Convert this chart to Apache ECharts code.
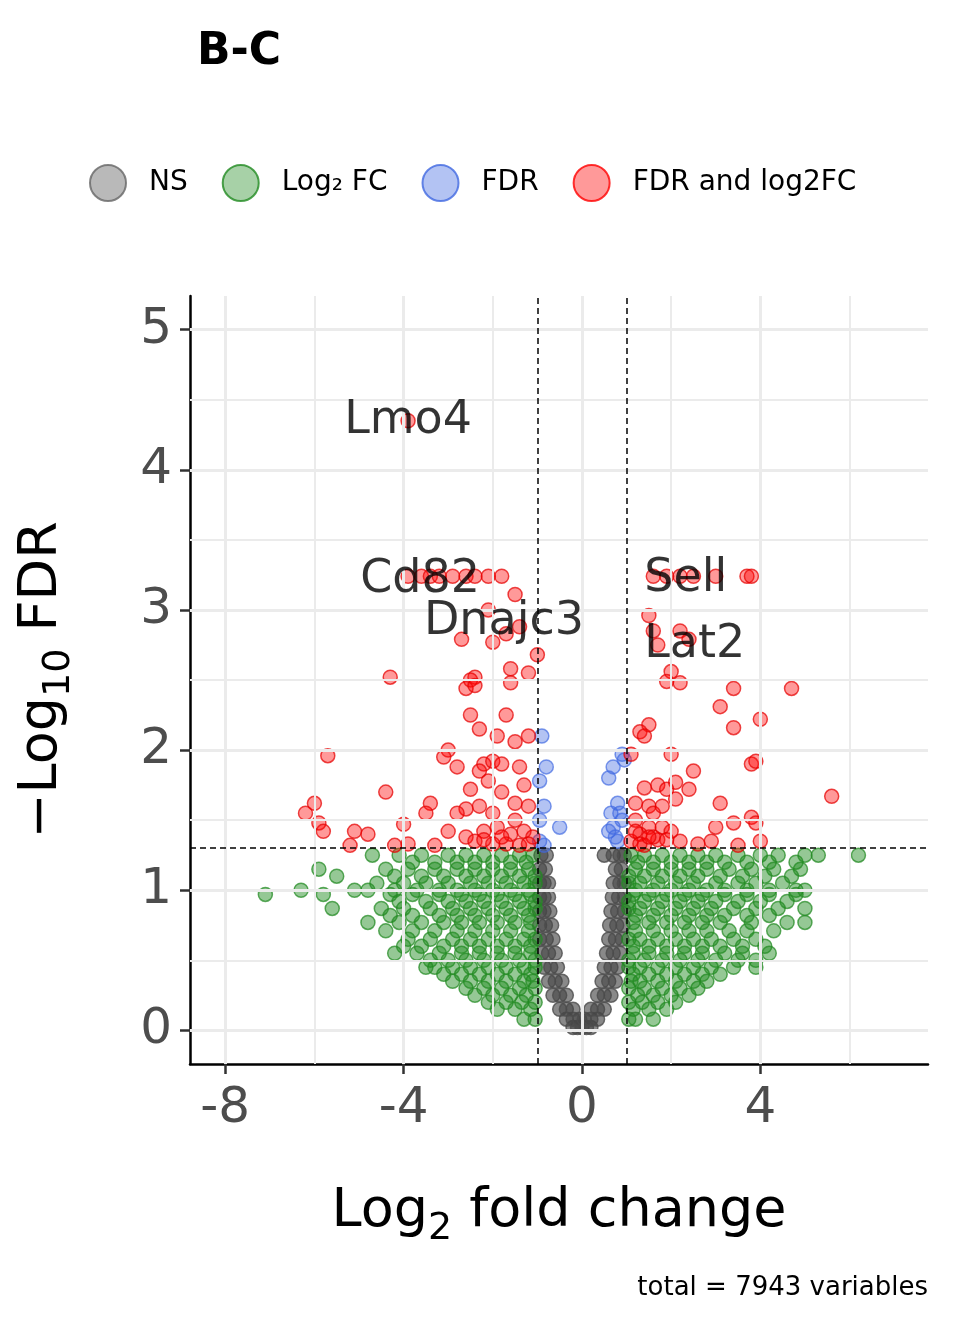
<!DOCTYPE html>
<html>
<head>
<meta charset="utf-8">
<script src="https://cdn.jsdelivr.net/npm/echarts@6/dist/echarts.min.js"></script>
<style>html,body{margin:0;padding:0;background:#fff}#c{width:960px;height:1344px}</style>
</head>
<body>
<div id="c"></div>
<script>
// tick labels
var xTicks = [-8, -4, 0, 4];
var yTicks = [0, 1, 2, 3, 4, 5];
var xGrid = [-8, -6, -4, -2, 0, 2, 4, 6];
var yGridMajor = [0, 1, 2, 3, 4, 5];
var yGridMinor = [0.5, 1.5, 2.5, 3.5, 4.5];

// significant (FDR and log2FC) points
var redPts = [
  [-3.9,4.35],
  [-3.9,3.24],[-3.6,3.24],[-3.4,3.24],[-3.2,3.24],[-2.9,3.24],[-2.6,3.24],[-2.4,3.24],[-2.1,3.24],[-1.8,3.24],
  [1.6,3.24],[1.9,3.24],[2.2,3.24],[2.5,3.24],[3.0,3.24],[3.7,3.24],[3.8,3.24],
  [-1.5,3.11],[-2.1,3.0],[-1.4,2.88],[-2.7,2.79],[-2.0,2.77],[-1.7,2.83],[-1.0,2.68],[-1.6,2.58],[-1.2,2.55],
  [-2.4,2.52],[-2.5,2.50],[-1.6,2.48],[-4.3,2.52],[-2.6,2.44],[-2.4,2.46],
  [1.5,2.96],[1.6,2.85],[2.2,2.85],[2.4,2.79],[1.7,2.75],[2.0,2.56],[1.9,2.49],[2.2,2.48],[3.4,2.44],[4.7,2.44],
  [3.1,2.31],[3.4,2.16],[4.0,2.22],[1.5,2.18],[1.3,2.13],[1.4,2.1],[1.1,1.97],[2.0,1.97],[3.8,1.9],[3.9,1.92],
  [2.5,1.85],[2.1,1.77],[1.7,1.75],[1.4,1.73],[1.9,1.72],[1.2,1.62],[1.5,1.6],[2.1,1.65],[2.4,1.72],[3.1,1.62],
  [5.6,1.67],[3.8,1.52],[3.9,1.48],[3.0,1.45],[3.4,1.48],[1.5,1.45],[1.8,1.45],[1.2,1.5],[1.3,1.4],[2.2,1.35],
  [2.9,1.35],[3.5,1.32],[4.0,1.35],[2.6,1.33],[1.7,1.36],[1.1,1.35],[1.4,1.32],
  [-2.5,2.25],[-2.3,2.15],[-1.7,2.25],[-1.2,2.1],[-1.9,2.1],[-1.5,2.06],[-3.0,2.0],[-3.1,1.95],[-2.2,1.9],
  [-2.0,1.92],[-1.8,1.9],[-1.4,1.88],[-2.8,1.88],[-5.7,1.96],[-2.1,1.78],[-2.5,1.72],[-1.8,1.7],[-2.3,1.6],
  [-2.6,1.58],[-3.4,1.62],[-3.5,1.55],[-4.4,1.7],[-1.5,1.62],[-1.2,1.6],[-2.0,1.55],[-2.8,1.55],[-6.0,1.62],
  [-6.2,1.55],[-5.9,1.48],[-5.8,1.42],[-4.0,1.47],[-3.0,1.42],[-2.6,1.38],[-2.2,1.42],[-1.9,1.45],[-1.6,1.4],
  [-1.3,1.42],[-1.1,1.38],[-5.1,1.42],[-4.8,1.4],[-4.2,1.32],[-5.2,1.32],[-3.9,1.33],[-3.3,1.32],[-2.0,1.33],
  [-1.4,1.32],[-2.4,1.35],[-1.7,1.33],[-1.5,1.5],[-1.3,1.75],[-2.3,1.85],[1.6,1.55],[1.8,1.6],[2.0,1.42],
  [-1.8,1.38],[-1.2,1.33],[-2.2,1.36],[1.3,1.33],[1.6,1.38],[1.9,1.36],[1.2,1.42],[1.5,1.38]
];

var bluePts = [
  [-0.9,2.1],[-0.8,1.88],[-0.95,1.78],[-0.85,1.6],[-0.95,1.5],[-0.5,1.45],[-0.95,1.35],[-0.85,1.32],
  [0.6,1.8],[0.7,1.88],[0.9,1.97],[0.95,1.93],[0.8,1.62],[0.85,1.55],[0.6,1.42],[0.7,1.45],
  [0.75,1.38],[0.9,1.5],[0.65,1.55],[0.8,1.35]
];

// log2FC-only cloud: rows of [y, x values]
var greenRows = [
  [1.25,[-4.7,-4.1,-3.6,-3.0,-2.6,-2.2,-1.8,-1.4,-1.1,1.1,1.4,1.8,2.2,2.6,3.0,3.5,4.0,4.4,5.0,5.3,6.2]],
  [1.2,[-3.8,-3.3,-2.8,-2.4,-2.0,-1.6,-1.25,1.25,1.6,2.0,2.4,2.8,3.2,3.7,4.2,4.8]],
  [1.15,[-5.9,-4.4,-3.9,-3.3,-2.8,-2.4,-2.0,-1.6,-1.2,1.2,1.6,2.0,2.4,2.8,3.3,3.8,4.3,4.9]],
  [1.1,[-5.5,-4.2,-3.6,-3.1,-2.6,-2.2,-1.8,-1.4,-1.05,1.05,1.4,1.8,2.2,2.6,3.1,3.6,4.1,4.7]],
  [1.05,[-4.6,-4.0,-3.5,-3.0,-2.5,-2.1,-1.7,-1.3,-1.05,1.05,1.3,1.7,2.1,2.5,3.0,3.5,3.9,4.5]],
  [1.0,[-6.3,-5.1,-4.8,-4.2,-3.7,-3.2,-2.8,-2.4,-2.0,-1.6,-1.2,1.2,1.6,2.0,2.4,2.8,3.2,3.7,4.2,4.8,5.0]],
  [0.97,[-7.1,-5.8,-4.3,-3.8,-3.2,-2.7,-2.3,-1.9,-1.5,-1.15,1.15,1.5,1.9,2.3,2.7,3.2,3.7,4.2,4.8]],
  [0.92,[-4.1,-3.5,-3.0,-2.6,-2.2,-1.8,-1.4,-1.05,1.05,1.4,1.8,2.2,2.6,3.0,3.5,4.0,4.6]],
  [0.87,[-5.6,-4.5,-4.0,-3.4,-2.9,-2.5,-2.1,-1.7,-1.3,-1.05,1.05,1.3,1.7,2.1,2.5,2.9,3.4,3.9,4.4,5.0]],
  [0.82,[-4.3,-3.8,-3.2,-2.8,-2.4,-2.0,-1.6,-1.2,1.2,1.6,2.0,2.4,2.8,3.2,3.7,4.2]],
  [0.77,[-4.8,-4.1,-3.6,-3.1,-2.7,-2.3,-1.9,-1.5,-1.15,1.15,1.5,1.9,2.3,2.7,3.1,3.8,4.6,5.0]],
  [0.71,[-4.4,-3.8,-3.3,-2.8,-2.4,-2.0,-1.6,-1.2,1.2,1.6,2.0,2.4,2.8,3.3,3.7,4.3]],
  [0.65,[-3.9,-3.4,-2.9,-2.5,-2.1,-1.7,-1.3,-1.05,1.05,1.3,1.7,2.1,2.5,2.9,3.4,3.9]],
  [0.6,[-4.0,-3.6,-3.1,-2.7,-2.3,-1.9,-1.5,-1.15,1.15,1.5,1.9,2.3,2.7,3.1,3.6,4.1]],
  [0.55,[-4.2,-3.7,-3.2,-2.7,-2.3,-1.9,-1.5,-1.15,1.15,1.5,1.9,2.3,2.7,3.2,3.6,4.2]],
  [0.5,[-3.4,-3.0,-2.6,-2.2,-1.8,-1.4,-1.05,1.05,1.4,1.8,2.2,2.6,3.0,3.5,3.9]],
  [0.45,[-3.5,-3.3,-2.9,-2.5,-2.1,-1.7,-1.3,-1.05,1.05,1.3,1.7,2.1,2.5,2.9,3.4,3.9]],
  [0.4,[-3.1,-2.7,-2.3,-1.9,-1.5,-1.15,1.15,1.5,1.9,2.3,2.7,3.1]],
  [0.35,[-2.9,-2.5,-2.1,-1.7,-1.3,-1.1,1.1,1.3,1.7,2.1,2.5,2.8]],
  [0.3,[-2.6,-2.2,-1.8,-1.4,-1.05,1.05,1.4,1.8,2.2,2.6]],
  [0.25,[-2.4,-2.0,-1.6,-1.25,1.25,1.6,2.0,2.4]],
  [0.2,[-2.1,-1.7,-1.35,-1.05,1.05,1.35,1.7,2.1]],
  [0.15,[-1.9,-1.5,-1.15,1.15,1.5,1.9]],
  [0.08,[-1.3,-1.05,1.05,1.2,1.6]]
];

// not significant V shape: rows of [y, x values]
var greyRows = [
  [0.02,[-0.2,-0.1,0,0.1,0.2]],
  [0.08,[-0.35,-0.2,-0.05,0.05,0.2,0.35]],
  [0.15,[-0.5,-0.35,-0.2,0.2,0.35,0.5]],
  [0.25,[-0.65,-0.5,-0.35,0.35,0.5,0.65]],
  [0.35,[-0.75,-0.6,-0.45,0.45,0.6,0.75]],
  [0.45,[-0.85,-0.7,-0.55,0.5,0.65,0.8]],
  [0.55,[-0.9,-0.75,-0.6,0.55,0.7,0.85]],
  [0.65,[-0.95,-0.8,-0.65,0.6,0.75,0.9]],
  [0.75,[-0.95,-0.82,-0.68,0.62,0.78,0.92]],
  [0.85,[-0.95,-0.85,-0.72,0.65,0.8,0.95]],
  [0.95,[-0.95,-0.85,-0.75,0.68,0.82,0.95]],
  [1.05,[-0.95,-0.85,-0.75,0.7,0.85,0.95]],
  [1.15,[-0.95,-0.82,0.75,0.88]],
  [1.25,[-0.92,-0.8,0.5,0.7,0.85,0.95]]
];

var geneLabels = [
  ['Lmo4', -3.9, 4.35],
  ['Cd82', -3.63, 3.21],
  ['Dnajc3', -1.75, 2.91],
  ['Sell', 2.33, 3.22],
  ['Lat2', 2.53, 2.75]
];

var legendNames = ['NS', 'Log₂ FC', 'FDR', 'FDR and log2FC'];

function rowsToPts(rows) {
  var out = [];
  rows.forEach(function (r) {
    r[1].forEach(function (x) { out.push([x, r[0]]); });
  });
  return out;
}

function pointSeries(name, data, fill, edge) {
  return {
    name: name,
    type: 'scatter',
    data: data,
    symbolSize: 14,
    itemStyle: { color: fill, borderColor: edge, borderWidth: 1.5 },
    emphasis: { disabled: true }
  };
}

var gridLines = []
  .concat(xGrid.map(function (v) { return { xAxis: v, lineStyle: { width: v % 4 === 0 ? 3 : 2 } }; }))
  .concat(yGridMajor.map(function (v) { return { yAxis: v, lineStyle: { width: 3 } }; }))
  .concat(yGridMinor.map(function (v) { return { yAxis: v, lineStyle: { width: 2 } }; }));

var chart = echarts.init(document.getElementById('c'));
var axisFont = 'DejaVu Sans';
var nameRich = {
  a: { fontFamily: axisFont, fontSize: 54, color: '#000' },
  s: { fontFamily: axisFont, fontSize: 38, color: '#000', padding: [34, 0, 0, 0] }
};
chart.setOption({
  animation: false,
  title: {
    text: 'B-C', left: 192, top: 26,
    textStyle: { fontFamily: axisFont, fontSize: 44, fontWeight: 'bold', color: '#000' }
  },
  legend: {
    left: 84, top: 159, width: 3000,
    itemWidth: 36, itemHeight: 36, itemGap: 34,
    icon: 'circle',
    textStyle: { fontFamily: axisFont, fontSize: 28, color: '#000', padding: [0, 0, 0, 18] },
    data: [
      { name: legendNames[0], itemStyle: { color: 'rgba(80,80,80,0.5)', borderColor: '#666', borderWidth: 2 } },
      { name: legendNames[1], itemStyle: { color: 'rgba(34,139,34,0.5)', borderColor: '#228b22', borderWidth: 2 } },
      { name: legendNames[2], itemStyle: { color: 'rgba(65,105,225,0.5)', borderColor: '#4169e1', borderWidth: 2 } },
      { name: legendNames[3], itemStyle: { color: 'rgba(255,0,0,0.5)', borderColor: '#ff0000', borderWidth: 2 } }
    ]
  },
  grid: { left: 190, right: 32, top: 296, bottom: 280 },
  xAxis: {
    type: 'value', min: -8.79, max: 7.76,
    name: '{a|Log}{s|2}{a| fold change}',
    nameLocation: 'middle', nameGap: 112,
    nameTextStyle: { rich: nameRich },
    axisLine: { onZero: false, lineStyle: { color: '#000', width: 2.5 } },
    axisTick: { customValues: xTicks, length: 10, lineStyle: { color: '#333', width: 2.5 } },
    axisLabel: { customValues: xTicks, fontFamily: axisFont, fontSize: 50, color: '#4d4d4d', margin: 20 },
    splitLine: { show: false }
  },
  yAxis: {
    type: 'value', min: -0.24, max: 5.24,
    name: '{a|−Log}{s|10}{a| FDR}',
    nameLocation: 'middle', nameGap: 112, nameRotate: 90,
    nameTextStyle: { rich: nameRich },
    axisLine: { onZero: false, lineStyle: { color: '#000', width: 2.5 } },
    axisTick: { customValues: yTicks, length: 10, lineStyle: { color: '#333', width: 2.5 } },
    axisLabel: { customValues: yTicks, fontFamily: axisFont, fontSize: 50, color: '#4d4d4d', margin: 18 },
    splitLine: { show: false }
  },
  graphic: [{
    type: 'text', right: 32, top: 1275,
    style: { text: 'total = 7943 variables', fontFamily: axisFont, fontSize: 26, fill: '#000' }
  }],
  series: [
    {
      name: 'grid', type: 'line', data: [], z: 0, silent: true,
      markLine: {
        silent: true, symbol: 'none', label: { show: false },
        lineStyle: { color: '#ebebeb', type: 'solid' },
        data: gridLines
      }
    },
    pointSeries(legendNames[0], rowsToPts(greyRows), 'rgba(70,70,70,0.8)', '#4d4d4d'),
    pointSeries(legendNames[1], rowsToPts(greenRows), 'rgba(34,139,34,0.6)', 'rgba(34,139,34,0.9)'),
    pointSeries(legendNames[2], bluePts, 'rgba(65,105,225,0.5)', 'rgba(65,105,225,0.85)'),
    pointSeries(legendNames[3], redPts, 'rgba(255,0,0,0.5)', 'rgba(230,0,0,0.9)'),
    {
      name: 'cutoffs', type: 'line', data: [], z: 5, silent: true,
      markLine: {
        silent: true, symbol: 'none', label: { show: false },
        lineStyle: { color: '#000', type: [6, 4], width: 1.5 },
        data: [{ xAxis: -1 }, { xAxis: 1 }, { yAxis: 1.30103 }]
      }
    },
    {
      name: 'labels', type: 'scatter', symbolSize: 0, z: 10, silent: true,
      data: geneLabels.map(function (g) { return { name: g[0], value: [g[1], g[2]] }; }),
      label: {
        show: true, position: 'inside', formatter: '{b}',
        fontFamily: axisFont, fontSize: 46, color: '#000'
      }
    }
  ]
});
</script>
</body>
</html>
